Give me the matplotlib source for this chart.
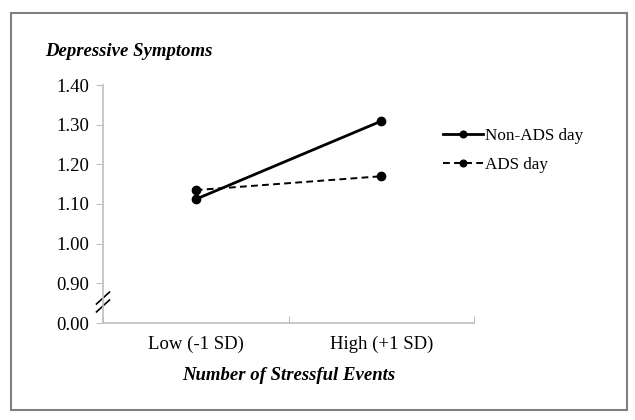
import numpy as np
import matplotlib.pyplot as plt
from matplotlib.patches import Rectangle

###### dados ######
categorias = ['Low (-1 SD)', 'High (+1 SD)']
non_ads = [1.112, 1.309]
ads = [1.135, 1.170]
# 0.00 fica desenhado uma casa abaixo de 0.90 (eixo quebrado)
tick_pos = [0.8, 0.9, 1.0, 1.1, 1.2, 1.3, 1.4]
tick_txt = ['0.00', '0.90', '1.00', '1.10', '1.20', '1.30', '1.40']

plt.rcParams['font.family'] = ['Liberation Serif', 'DejaVu Serif']
fs = 13.5

fig = plt.figure(figsize=(6.35, 4.2), dpi=100)
ax = fig.add_axes([103 / 635, 1 - 323 / 420, (474 - 103) / 635, (323 - 85) / 420])

x = np.arange(len(categorias))
ax.plot(x, non_ads, color='black', lw=2, marker='o', ms=6, label='Non-ADS day')
ax.plot(x, ads, color='black', lw=1.4, ls=(0, (3.5, 2.2)), marker='o', ms=6, label='ADS day')

ax.set_xlim(-0.5, 1.5)
ax.set_ylim(0.8, 1.4)
ax.set_yticks(tick_pos)
ax.set_yticklabels(tick_txt)
ax.set_xticks([-0.5, 0.5, 1.5])
ax.set_xticklabels([])
ax.set_xticks(x, minor=True)
ax.set_xticklabels(categorias, minor=True)
ax.tick_params(axis='x', which='minor', length=0, pad=9, labelsize=fs)
ax.tick_params(axis='x', which='major', length=5, color='#bfbfbf', direction='in')
ax.tick_params(axis='y', length=5, color='#bfbfbf', direction='out', labelsize=fs, pad=5)

for lado in ['top', 'right']:
    ax.spines[lado].set_visible(False)
for lado in ['left', 'bottom']:
    ax.spines[lado].set_color('#bfbfbf')
    ax.spines[lado].set_linewidth(1.2)

# marca de quebra do eixo
for dy in [0.0, 0.02]:
    ax.plot([-0.535, -0.465], [0.828 + dy, 0.858 + dy], color='black', lw=1.2,
            transform=ax.transData, clip_on=False)

fig.text(45 / 635, 1 - 52 / 420, 'Depressive Symptoms', fontsize=fs,
         fontweight='bold', fontstyle='italic', va='center')
fig.text(289 / 635, 1 - 375 / 420, 'Number of Stressful Events', fontsize=fs,
         fontweight='bold', fontstyle='italic', va='center', ha='center')

ax.legend(loc='upper left', bbox_to_anchor=(443 / 635, 1 - 128 / 420),
          bbox_transform=fig.transFigure, frameon=False, fontsize=12.3,
          borderpad=0, borderaxespad=0,
          handlelength=2.35, handletextpad=0.12, labelspacing=0.75, markerscale=0.8)

fig.patches.append(Rectangle((11 / 635, 1 - 410 / 420), (627 - 11) / 635, (410 - 13) / 420,
                             transform=fig.transFigure, fill=False,
                             edgecolor='#7f7f7f', lw=1.5))

fig.savefig('out.png', dpi=100)
